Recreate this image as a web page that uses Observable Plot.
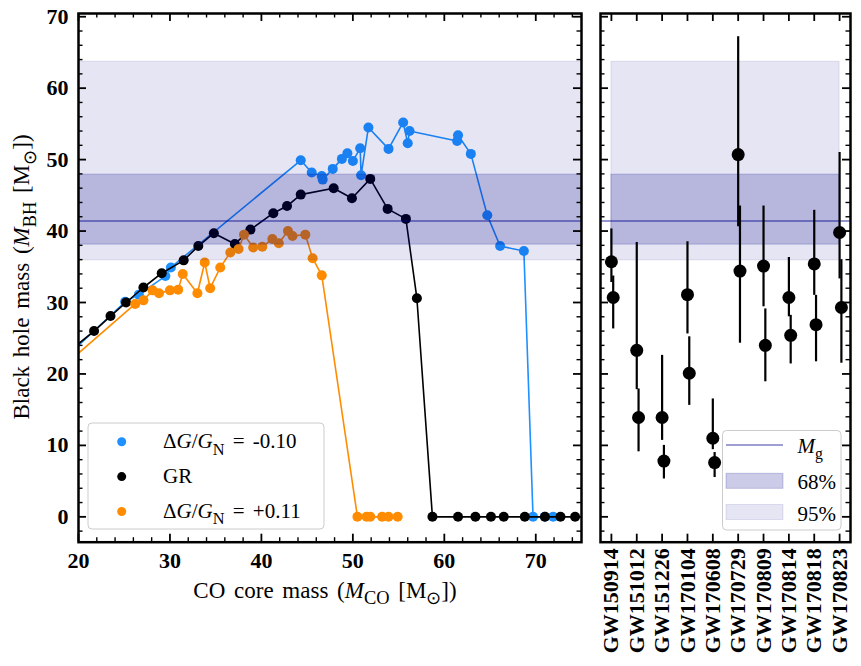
<!DOCTYPE html>
<html><head><meta charset="utf-8">
<script src="https://cdn.jsdelivr.net/npm/d3@7"></script>
<script src="https://cdn.jsdelivr.net/npm/@observablehq/plot@0.6"></script>
<style>
body{margin:0;background:#fff;}
#wrap{position:relative;width:861px;height:666px;overflow:hidden;}
#wrap svg{position:absolute;top:0;}
</style></head><body><div id="wrap"></div>
<script>
// ---------- data: left panel (CO core mass -> BH mass) ----------
const blueX = [19.0, 25.1, 26.6, 29.5, 30.1, 44.3, 45.5, 46.6, 46.7, 47.8, 48.8, 49.4, 50.0, 50.8, 50.9, 51.7, 53.9, 55.5, 56.0, 56.2, 61.4, 61.5, 62.9, 64.7, 66.1, 68.7, 69.7, 71.0, 71.9];
const blueY = [22.8, 30.1, 31.1, 33.7, 34.9, 49.9, 48.2, 47.7, 47.2, 48.7, 50.1, 50.9, 49.8, 51.6, 47.8, 54.5, 51.5, 55.2, 52.3, 54.0, 52.6, 53.4, 50.8, 42.2, 37.9, 37.2, 0, 0, 0];
const blackX = [19.2, 21.7, 23.5, 25.2, 27.1, 29.1, 31.5, 33.1, 34.8, 37.1, 38.8, 41.3, 42.8, 44.3, 47.9, 49.9, 51.9, 53.8, 55.8, 57.0, 58.7, 61.5, 63.4, 65.1, 66.5, 68.8, 71.0, 72.7, 74.3];
const blackY = [23.4, 26.0, 28.1, 30.0, 32.1, 34.1, 35.9, 37.9, 39.7, 38.2, 40.2, 42.5, 43.5, 45.1, 46.0, 44.6, 47.3, 43.1, 41.7, 30.6, 0, 0, 0, 0, 0, 0, 0, 0, 0];
const orangeX = [19.0, 26.2, 27.1, 28.1, 28.8, 30.0, 30.9, 31.4, 33.0, 33.8, 34.4, 35.5, 36.6, 37.5, 38.1, 39.1, 40.1, 41.2, 41.9, 42.9, 43.4, 44.8, 45.6, 46.6, 50.5, 51.5, 51.9, 53.2, 53.9, 54.9];
const orangeY = [21.8, 29.8, 30.3, 31.7, 31.3, 31.7, 31.8, 34.0, 31.3, 35.6, 32.0, 34.9, 37.0, 37.5, 39.5, 37.7, 37.8, 38.9, 38.3, 40.0, 39.3, 39.5, 36.2, 33.8, 0, 0, 0, 0, 0, 0];
const seriesNames = ["\u0394G/G_N = -0.10", "GR", "\u0394G/G_N = +0.11"];

// ---------- data: right panel (GW events) ----------
const events = ["GW150914","GW151012","GW151226","GW170104","GW170608","GW170729","GW170809","GW170814","GW170818","GW170823"];
const m1 = [35.7, 23.3, 13.9, 31.1, 11.0, 50.7, 35.1, 30.7, 35.4, 39.8];
const m1Plus = [4.6, 15.1, 8.7, 7.4, 5.5, 16.5, 8.4, 5.6, 7.5, 11.2];
const m1Minus = [2.9, 5.5, 3.2, 5.5, 1.6, 10.1, 5.7, 2.7, 4.4, 6.5];
const m2 = [30.7, 13.9, 7.8, 20.1, 7.6, 34.4, 24.0, 25.4, 26.9, 29.3];
const m2Plus = [3.0, 4.0, 2.2, 5.1, 1.4, 9.1, 5.1, 2.8, 4.1, 6.7];
const m2Minus = [4.4, 4.8, 2.5, 4.5, 2.1, 10.1, 5.1, 4.0, 5.2, 7.8];

// ---------- bands ----------
const mg = 41.4;
const band68 = [38.1, 47.9];
const band95 = [35.9, 63.7];

// ---------- ticks ----------
const xMajorL = [20, 30, 40, 50, 60, 70];
const xMinorL = d3.range(22, 75, 2).filter(v => v % 10 !== 0);
const yMajor = [0, 10, 20, 30, 40, 50, 60, 70];
const yMinor = d3.range(-2, 71, 2).filter(v => v % 10 !== 0);

// ---------- style ----------
const serif = "'Liberation Serif', 'Times New Roman', serif";
const BLUE = "#1e90ff", ORANGE = "#ff8c00", NAVY = "#00008b";
const H = 666, MT = 13, MB = 124.3;
const frameH = H - MT - MB;
const xDomainL = [20, 75];
const yDomain = [-3.55, 70.45];
const xDomainR = [-0.43, 9.43];

const mk = (X, Y) => X.map((x, i) => ({x, y: Y[i]}));
const blue = mk(blueX, blueY), black = mk(blackX, blackY), orange = mk(orangeX, orangeY);

function frameTicks(frameW) {
  const tx = (vals, len, sw) => [
    Plot.tickX(vals, {x: d => d, insetTop: frameH - len, stroke: "black", strokeWidth: sw}),
    Plot.tickX(vals, {x: d => d, insetBottom: frameH - len, stroke: "black", strokeWidth: sw})];
  const ty = (vals, len, sw) => [
    Plot.tickY(vals, {y: d => d, insetRight: frameW - len, stroke: "black", strokeWidth: sw}),
    Plot.tickY(vals, {y: d => d, insetLeft: frameW - len, stroke: "black", strokeWidth: sw})];
  return {tx, ty};
}

const bandMarks = (x1, x2) => [
  Plot.rect([band95], {x1, x2, y1: d => d[0], y2: d => d[1], fill: NAVY, fillOpacity: 0.1, stroke: NAVY, strokeOpacity: 0.1}),
  Plot.rect([band68], {x1, x2, y1: d => d[0], y2: d => d[1], fill: NAVY, fillOpacity: 0.2, stroke: NAVY, strokeOpacity: 0.2}),
  Plot.ruleY([mg], {stroke: NAVY, strokeOpacity: 0.55, strokeWidth: 1.6})
];

// ---------- left plot ----------
const WL = 590, MLL = 78, MRL = 9;
const tL = frameTicks(WL - MLL - MRL);
const left = Plot.plot({
  width: WL, height: H,
  marginLeft: MLL, marginRight: MRL, marginTop: MT, marginBottom: MB,
  x: {domain: xDomainL},
  y: {domain: yDomain},
  style: {fontFamily: serif, fontSize: "22px", fontWeight: "bold", background: "transparent", overflow: "visible"},
  marks: [
    Plot.line(blue, {x: "x", y: "y", stroke: BLUE, strokeWidth: 1.6, clip: true}),
    Plot.dot(blue, {x: "x", y: "y", r: 5, fill: BLUE, clip: true}),
    Plot.line(black, {x: "x", y: "y", stroke: "black", strokeWidth: 1.6, clip: true}),
    Plot.dot(black, {x: "x", y: "y", r: 5, fill: "black", clip: true}),
    Plot.line(orange, {x: "x", y: "y", stroke: ORANGE, strokeWidth: 1.6, clip: true}),
    Plot.dot(orange, {x: "x", y: "y", r: 5, fill: ORANGE, clip: true}),
    ...bandMarks(xDomainL[0], xDomainL[1]),
    ...tL.tx(xMajorL, 8, 1.8), ...tL.tx(xMinorL, 4.5, 1.4),
    ...tL.ty(yMajor, 8, 1.8), ...tL.ty(yMinor, 4.5, 1.4),
    Plot.axisX(xMajorL, {tickSize: 0, tickPadding: 10, fontSize: 22, fontWeight: "bold", fontFamily: serif, label: null}),
    Plot.axisY(yMajor, {tickSize: 0, tickPadding: 10, fontSize: 22, fontWeight: "bold", fontFamily: serif, label: null}),
    Plot.frame({stroke: "black", strokeWidth: 2.5})
  ]
});
left.style.left = "0px";

// ---------- right plot ----------
const WR = 271, MLR = 10, MRR = 11;
const tR = frameTicks(WR - MLR - MRR);
const idx = d3.range(events.length);
const rows1 = idx.map(i => ({x: i, v: m1[i], lo: m1[i] - m1Minus[i], hi: m1[i] + m1Plus[i]}));
const rows2 = idx.map(i => ({x: i, v: m2[i], lo: m2[i] - m2Minus[i], hi: m2[i] + m2Plus[i]}));
const right = Plot.plot({
  width: WR, height: H,
  marginLeft: MLR, marginRight: MRR, marginTop: MT, marginBottom: MB,
  x: {domain: xDomainR},
  y: {domain: yDomain, axis: null},
  style: {fontFamily: serif, fontSize: "22px", fontWeight: "bold", background: "transparent", overflow: "visible"},
  marks: [
    ...bandMarks(0, events.length - 1),
    Plot.ruleX(rows1, {x: "x", y1: "lo", y2: "hi", stroke: "black", strokeWidth: 2.2}),
    Plot.dot(rows1, {x: "x", y: "v", r: 6.5, fill: "black"}),
    Plot.ruleX(rows2, {x: "x", y1: "lo", y2: "hi", stroke: "black", strokeWidth: 2.2, dx: 1.8}),
    Plot.dot(rows2, {x: "x", y: "v", r: 6.5, fill: "black", dx: 1.8}),
    ...tR.tx(idx, 8, 1.8),
    ...tR.ty(yMajor, 8, 1.8), ...tR.ty(yMinor, 4.5, 1.4),
    Plot.axisX(idx, {tickSize: 0, tickPadding: 6, tickRotate: -90, tickFormat: i => events[i], fontSize: 22, fontWeight: "bold", fontFamily: serif, label: null}),
    Plot.frame({stroke: "black", strokeWidth: 2.5})
  ]
});
right.style.left = "590px";

const wrap = document.getElementById("wrap");
wrap.appendChild(left);
wrap.appendChild(right);

// ---------- overlay: titles and legends ----------
const ov = d3.select(wrap).append("svg")
  .attr("width", 861).attr("height", 666)
  .style("left", "0px").style("font-family", serif);

function rich(sel, parts, size, subScale = 0.72) {
  let shift = 0;
  for (const p of parts) {
    const t = sel.append("tspan").text(p.t);
    const target = p.sub ? size * 0.3 : 0;
    if (target !== shift) { t.attr("dy", target - shift); shift = target; }
    if (p.sub) t.attr("font-size", size * subScale);
    if (p.it) t.attr("font-style", "italic");
  }
}

// axis titles
const yt = ov.append("text").attr("transform", "translate(29,277) rotate(-90)")
  .attr("text-anchor", "middle").attr("font-size", 23).attr("word-spacing", 3);
rich(yt, [{t: "Black hole mass ("}, {t: "M", it: true}, {t: "BH", sub: true}, {t: " [M"}, {t: "\u2299", sub: true}, {t: "])"}], 23, 0.8);
const xt = ov.append("text").attr("x", 325).attr("y", 597.5)
  .attr("text-anchor", "middle").attr("font-size", 23).attr("word-spacing", 3);
rich(xt, [{t: "CO core mass ("}, {t: "M", it: true}, {t: "CO", sub: true}, {t: " [M"}, {t: "\u2299", sub: true}, {t: "])"}], 23, 0.8);

// left legend
ov.append("rect").attr("x", 88).attr("y", 423).attr("width", 236).attr("height", 106).attr("rx", 4)
  .attr("fill", "white").attr("fill-opacity", 0.8).attr("stroke", "#cccccc");
const legCols = [BLUE, "black", ORANGE];
const legParts = [
  [{t: "\u0394"}, {t: "G", it: true}, {t: "/"}, {t: "G", it: true}, {t: "N", sub: true}, {t: " = -0.10"}],
  [{t: "GR"}],
  [{t: "\u0394"}, {t: "G", it: true}, {t: "/"}, {t: "G", it: true}, {t: "N", sub: true}, {t: " = +0.11"}]
];
legCols.forEach((c, i) => {
  const cy = 441.7 + i * 34.9;
  ov.append("circle").attr("cx", 121.7).attr("cy", cy).attr("r", 4.5).attr("fill", c);
  const t = ov.append("text").attr("x", 163).attr("y", cy + 6.5).attr("font-size", 21).attr("word-spacing", 3);
  rich(t, legParts[i], 21, 0.78);
});

// right legend
ov.append("rect").attr("x", 722.5).attr("y", 430.5).attr("width", 118.5).attr("height", 99.5).attr("rx", 4)
  .attr("fill", "white").attr("fill-opacity", 0.8).attr("stroke", "#cccccc");
ov.append("line").attr("x1", 726).attr("x2", 783).attr("y1", 445).attr("y2", 445)
  .attr("stroke", NAVY).attr("stroke-opacity", 0.5).attr("stroke-width", 1.6);
ov.append("rect").attr("x", 726).attr("y", 473.3).attr("width", 57).attr("height", 15)
  .attr("fill", NAVY).attr("fill-opacity", 0.2).attr("stroke", NAVY).attr("stroke-opacity", 0.2);
ov.append("rect").attr("x", 726).attr("y", 504.5).attr("width", 57).attr("height", 15)
  .attr("fill", NAVY).attr("fill-opacity", 0.1).attr("stroke", NAVY).attr("stroke-opacity", 0.1);
const mgT = ov.append("text").attr("x", 797.5).attr("y", 452.5).attr("font-size", 21);
rich(mgT, [{t: "M", it: true}, {t: "g", sub: true}], 21, 0.75);
ov.append("text").attr("x", 797.5).attr("y", 489).attr("font-size", 21).text("68%");
ov.append("text").attr("x", 797.5).attr("y", 520.5).attr("font-size", 21).text("95%");
</script>
</body></html>
